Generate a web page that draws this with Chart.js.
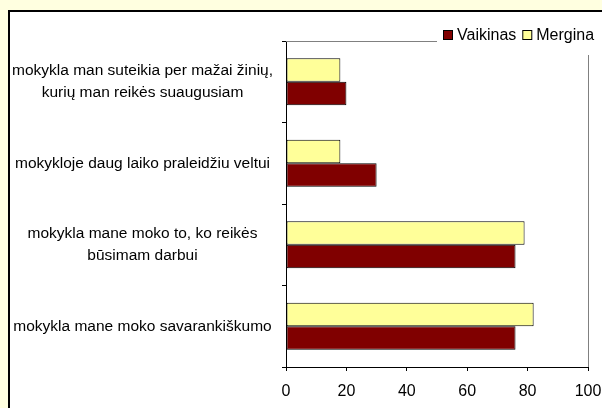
<!DOCTYPE html>
<html>
<head>
<meta charset="utf-8">
<script src="https://cdn.jsdelivr.net/npm/chart.js@4/dist/chart.umd.min.js"></script>
<style>
html,body{margin:0;padding:0;background:#FFFFE0;}
canvas{display:block;}
</style>
</head>
<body>
<canvas id="c" width="602" height="408"></canvas>
<script>
const categories = [
  ["mokykla man suteikia per mažai žinių,", "kurių man reikės suaugusiam"],
  ["mokykloje daug laiko praleidžiu veltui"],
  ["mokykla mane moko to, ko reikės", "būsimam darbui"],
  ["mokykla mane moko savarankiškumo"]
];
const seriesNames = ["Vaikinas", "Mergina"];
const vaikinasValues = [20, 30, 76, 76];
const merginaValues = [18, 18, 79, 82];
const xTickValues = [0, 20, 40, 60, 80, 100];

const FONT = "'Liberation Sans', Arial, sans-serif";

const framePlugin = {
  id: 'frame',
  beforeDraw(chart) {
    const ctx = chart.ctx;
    ctx.save();
    ctx.fillStyle = '#FFFFE0';
    ctx.fillRect(0, 0, chart.width, chart.height);
    ctx.fillStyle = '#FFFFFF';
    ctx.fillRect(9, 11, chart.width, chart.height);
    ctx.strokeStyle = '#000000';
    ctx.lineWidth = 2;
    ctx.beginPath();
    ctx.moveTo(9, chart.height + 2);
    ctx.lineTo(9, 11);
    ctx.lineTo(chart.width + 2, 11);
    ctx.stroke();
    ctx.restore();
  },
  afterDraw(chart) {
    const ctx = chart.ctx;
    const a = chart.chartArea;
    ctx.save();
    ctx.strokeStyle = '#808080';
    ctx.lineWidth = 1;
    ctx.beginPath();
    ctx.moveTo(a.left, Math.round(a.top) + 0.5);
    ctx.lineTo(Math.round(a.right) + 0.5, Math.round(a.top) + 0.5);
    ctx.lineTo(Math.round(a.right) + 0.5, a.bottom);
    ctx.stroke();
    // legend
    ctx.fillStyle = '#FFFFFF';
    ctx.fillRect(437, 20, chart.width - 437, 35);
    const ds = chart.data.datasets;
    const order = [1, 0];
    let x = 443;
    const y = 35;
    ctx.font = '16px ' + FONT;
    ctx.textBaseline = 'middle';
    ctx.textAlign = 'left';
    order.forEach(i => {
      ctx.fillStyle = ds[i].backgroundColor;
      ctx.fillRect(x + 0.5, y - 4.5, 9, 9);
      ctx.strokeStyle = '#000000';
      ctx.lineWidth = 1;
      ctx.strokeRect(x + 0.5, y - 4.5, 9, 9);
      ctx.fillStyle = '#000000';
      ctx.fillText(ds[i].label, x + 14, y + 1);
      x += 14 + ctx.measureText(ds[i].label).width + 6;
    });
    ctx.restore();
  }
};

new Chart(document.getElementById('c'), {
  type: 'bar',
  data: {
    labels: categories,
    datasets: [
      { label: seriesNames[1], data: merginaValues, backgroundColor: '#FFFF99', borderColor: '#000000', borderWidth: 1, borderSkipped: false },
      { label: seriesNames[0], data: vaikinasValues, backgroundColor: '#800000', borderColor: '#000000', borderWidth: 1, borderSkipped: false }
    ]
  },
  options: {
    indexAxis: 'y',
    responsive: false,
    animation: false,
    devicePixelRatio: 1,
    layout: { padding: { left: 0, top: 41, right: 14, bottom: 0 } },
    datasets: { bar: { categoryPercentage: 0.577, barPercentage: 1 } },
    plugins: { legend: { display: false }, tooltip: { enabled: false } },
    scales: {
      x: {
        min: 0, max: 100,
        afterBuildTicks(scale) { scale.ticks = xTickValues.map(v => ({ value: v })); },
        afterFit(scale) { scale.height = 41; scale.paddingRight = 0; scale.paddingLeft = 0; },
        grid: { drawOnChartArea: false, drawTicks: true, tickLength: 4, color: '#000000' },
        border: { color: '#000000', width: 1 },
        ticks: { color: '#000000', font: { family: FONT, size: 16 }, padding: 11, maxRotation: 0 }
      },
      y: {
        afterFit(scale) { scale.width = 286; scale.paddingTop = 0; scale.paddingBottom = 0; },
        grid: { offset: true, drawOnChartArea: false, drawTicks: true, tickLength: 4, color: '#000000' },
        border: { color: '#000000', width: 1 },
        ticks: { color: '#000000', font: { family: FONT, size: 15.5, lineHeight: 1.4 }, padding: 9, crossAlign: 'center', autoSkip: false }
      }
    }
  },
  plugins: [framePlugin]
});
</script>
</body>
</html>
